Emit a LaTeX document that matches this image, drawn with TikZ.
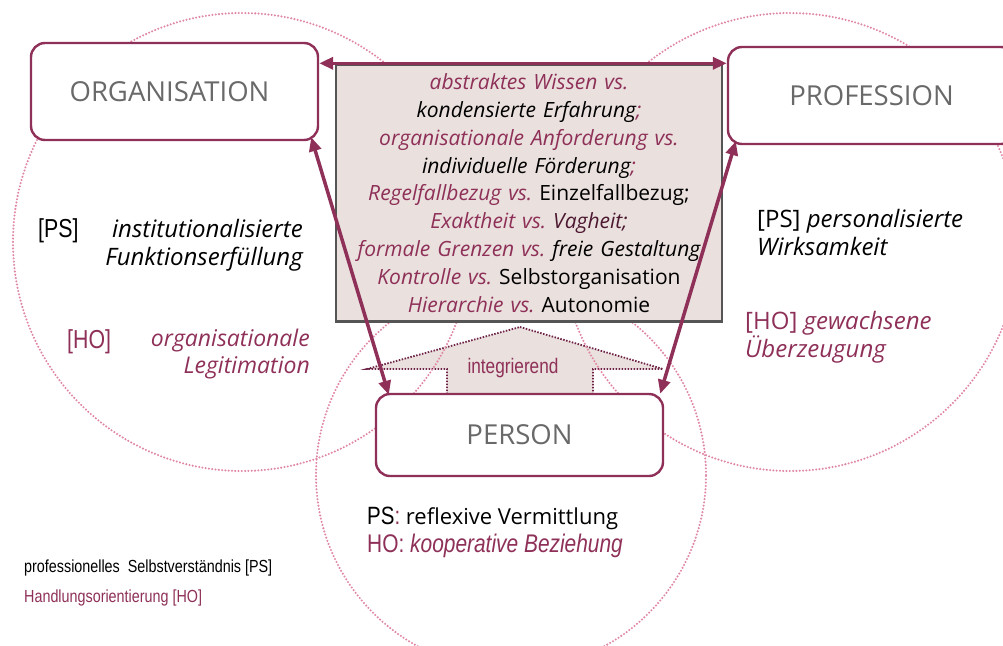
\documentclass[tikz,border=0pt]{standalone}
\usepackage{fontspec}
\setmainfont{Open Sans}
\newfontfamily\narrowsf[FakeStretch=0.82]{Liberation Sans}
\usetikzlibrary{arrows.meta}

\definecolor{wine}{RGB}{142,48,88}
\definecolor{dotpink}{RGB}{224,135,165}
\definecolor{boxfill}{RGB}{234,224,221}
\definecolor{boxline}{RGB}{85,85,85}
\definecolor{labelgray}{RGB}{105,105,105}
\definecolor{outlinedark}{RGB}{110,35,70}

\newcommand{\wn}[1]{\textcolor{wine}{#1}}
\frenchspacing

\begin{document}
\begin{tikzpicture}[x=1pt, y=-1pt,
	role/.style={draw=wine, line width=2.4pt, rounded corners=14pt, fill=white, minimum width=287pt, inner sep=0pt, text=labelgray, font=\fontsize{27.5}{30}\selectfont},
	field/.style={dotpink, line width=2.3pt, dash pattern=on 0pt off 3.3pt, line cap=round},
	link/.style={wine, line width=3.5pt, {Triangle[length=14pt,width=12pt]}-{Triangle[length=14pt,width=12pt]}},
	note/.style={inner sep=0pt, font=\fontsize{24}{28}\selectfont\itshape},
	tag/.style={inner sep=0pt, font=\narrowsf\fontsize{26}{28}\selectfont}]

		\useasboundingbox (0,0) rectangle (1003,645);

		% Draw the integrating arrow below the box
		\filldraw[fill=boxfill, draw=outlinedark, line width=1.8pt, dash pattern=on 1.5pt off 1.5pt] (520,327) -- (663,369) -- (593,369) -- (593,394) -- (447,394) -- (447,369) -- (367,369) -- cycle;
		\node[text=wine, font=\narrowsf\fontsize{21}{24}\selectfont] (integ) at (513,368) {integrierend};

		% Draw the three fields
		\draw[field] (242,242) circle[radius=229pt];
		\draw[field] (790,242) circle[radius=229pt];
		\draw[field] (511,475) circle[radius=195pt];

		% Draw the box with the tensions
		\node[draw=boxline, line width=2.4pt, fill=boxfill, minimum width=386pt, minimum height=257pt, text width=380pt, inner sep=0pt, align=center, font=\fontsize{21}{27.8}\selectfont\itshape] (tens) at (529,193) {%
			\wn{abstraktes Wissen vs.}\\
			kondensierte Erfahrung\wn{;}\\
			\wn{organisationale Anforderung vs.}\\
			individuelle Förderung\wn{;}\\
			\wn{Regelfallbezug vs.} {\upshape Einzelfallbezug;}\\
			\wn{Exaktheit vs.} \textcolor{outlinedark!70!black}{Vagheit;}\\
			\wn{formale Grenzen vs.} freie Gestaltung\\
			\wn{Kontrolle vs.} {\upshape Selbstorganisation}\\
			\wn{Hierarchie vs.} {\upshape Autonomie}};

		% Draw the three roles
		\node[role, minimum height=97pt] (org) at (174.5,91.5) {ORGANISATION\hspace*{10pt}};
		\node[role, minimum height=97pt] (prof) at (871.5,95.5) {PROFESSION};
		\node[role, minimum height=82pt] (pers) at (519.5,435) {PERSON};

		% Draw the arrows between the roles
		\draw[link] (org.east |- tens.north) -- (prof.west |- tens.north);
		\draw[link] ([xshift=-8pt, yshift=4pt]org.south east) -- ([xshift=14pt, yshift=-2pt]pers.north west);
		\draw[link] ([xshift=9pt, yshift=4pt]prof.south west) -- ([xshift=-4pt, yshift=-1pt]pers.north east);

		% Organisation
		\node[tag, anchor=base west] (orgpstag) at (38,237) {[PS]};
		\node[note, anchor=base east, align=right] (orgps) at (303,265) {institutionalisierte\\Funktionserfüllung};
		\node[tag, text=wine, anchor=base west] (orghotag) at (67,348) {[HO]};
		\node[note, text=wine, anchor=base east, align=right, font=\fontsize{23}{27}\selectfont\itshape] (orgho) at (310,373) {organisationale\\Legitimation};

		% Profession
		\node[note, anchor=base west, align=left] (profps) at (757,255) {{\upshape[PS]} personalisierte\\Wirksamkeit};
		\node[note, text=wine, anchor=base west, align=left] (profho) at (745,357) {{\upshape[HO]} gewachsene\\Überzeugung};

		% Person
		\node[inner sep=0pt, anchor=base west, align=left, font=\fontsize{22}{28}\selectfont] (persnote) at (367,552) {{\narrowsf\fontsize{25}{28}\selectfont PS\wn{:}} reflexive Vermittlung\\\wn{\narrowsf\fontsize{25.5}{28}\selectfont HO: \itshape kooperative Beziehung}};

		% Legend
		\node[inner sep=0pt, anchor=base west, align=left, font=\narrowsf\fontsize{17.5}{30}\selectfont] (legend) at (24,602) {professionelles\ \ Selbstverständnis [PS]\\\wn{Handlungsorientierung [HO]}};

	\end{tikzpicture}
\end{document}
